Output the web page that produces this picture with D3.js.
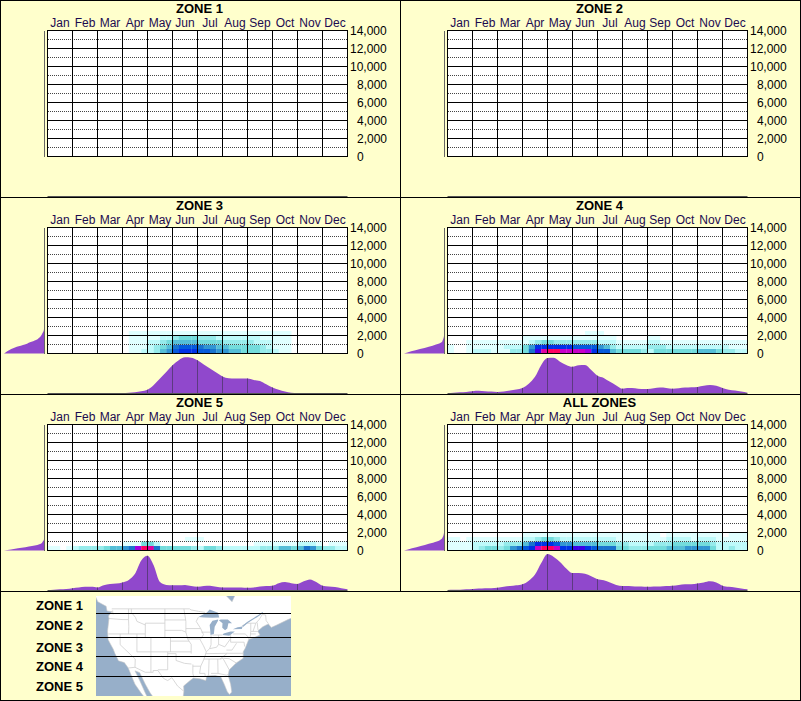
<!DOCTYPE html>
<html lang="en">
  <head>
    <meta charset="UTF-8" />
    <title>Zone elevation by month</title>
    <script src="https://d3js.org/d3.v7.min.js"></script>
    <style>
      html, body { margin: 0; padding: 0; background: #ffffcc; }
      svg { display: block; }
      text { font-family: "Liberation Sans", Arial, sans-serif; }
    </style>
  </head>
  <body>
    <svg width="801" height="701"></svg>
    <script>
      const months = ["Jan","Feb","Mar","Apr","May","Jun","Jul","Aug","Sep","Oct","Nov","Dec"];
      const yTicks = [0,2000,4000,6000,8000,10000,12000,14000];
      const yDotted = [1000,3000,5000,7000,9000,11000,13000];
      const legendNames = ["ZONE 1","ZONE 2","ZONE 3","ZONE 4","ZONE 5"];
      const legendBaselines = [610,630,652,671,691];
      const zoneBoundaryLats = [613,637,656,676];

      // heat levels, one array per 500 ft band starting at the bottom, 4 cells per month
      const heatLevels = ["#ffffff","#e0ffff","#befafa","#96ebeb","#73dcdc","#55bed7","#3296d2","#1973cd","#055adc","#0032e6","#3c00e6","#a000e0","#c800c8","#e000a0","#ff0060"];
      const zone3Heat = [
        [0,0,0,0,0,0,0,0,0,0,0,0,0,1,1,2,2,3,5,6,8,9,9,9,8,8,7,6,6,5,5,4,4,4,3,3,2,1,1,0,0,0,0,0,0,0,0,0],
        [0,0,0,0,0,0,0,0,0,0,0,0,0,1,1,1,2,3,4,5,7,8,8,8,7,6,6,5,5,4,4,4,4,4,3,2,1,1,1,0,0,0,0,0,0,0,0,0],
        [0,0,0,0,0,0,0,0,0,0,0,0,0,1,1,1,2,2,3,4,5,5,5,5,4,4,4,4,3,3,3,3,3,2,2,2,1,1,1,0,0,0,0,0,0,0,0,0],
        [0,0,0,0,0,0,0,0,0,0,0,0,0,1,1,1,1,1,2,2,3,4,4,4,3,3,3,2,2,2,2,2,2,2,1,1,1,1,1,0,0,0,0,0,0,0,0,0],
        [0,0,0,0,0,0,0,0,0,0,0,0,0,1,1,1,1,1,1,1,1,1,1,1,1,1,1,1,1,1,1,1,1,1,1,1,1,1,1,0,0,0,0,0,0,0,0,0]
      ];
      const zone4Heat = [
        [1,0,0,1,2,2,2,1,1,1,3,3,4,7,10,13,14,14,12,12,12,12,11,9,8,8,5,4,4,4,4,3,2,4,4,4,4,4,4,4,5,5,5,4,3,3,2,2],
        [1,0,0,1,1,1,1,1,1,2,2,2,4,6,9,9,9,9,9,9,8,8,8,8,6,5,3,2,2,2,2,2,3,3,3,2,2,2,2,2,2,2,2,2,2,1,1,1],
        [0,0,0,1,1,1,1,1,1,1,1,1,1,2,3,4,4,3,3,3,3,3,3,3,2,2,2,1,1,1,1,1,2,2,1,1,1,1,1,1,1,1,1,1,1,1,1,1],
        [0,0,0,0,0,0,0,0,0,0,0,0,1,1,1,1,1,1,1,1,1,1,1,1,1,1,1,0,0,0,0,0,1,1,0,0,0,0,0,0,0,0,0,0,0,0,0,0],
        [0,0,0,0,0,0,0,0,0,0,0,0,0,0,0,0,0,0,0,0,0,0,1,1,1,0,0,0,0,0,0,0,0,0,0,0,0,0,0,0,0,0,0,0,0,0,0,0]
      ];
      const zone5Heat = [
        [1,1,0,1,2,3,3,3,3,4,5,5,6,7,11,14,13,7,4,4,4,4,4,3,2,4,4,3,2,2,2,2,2,2,3,3,3,5,5,4,5,7,6,4,3,3,2,2],
        [0,0,0,0,0,0,0,0,0,0,0,0,1,1,1,4,4,2,0,0,0,0,0,0,0,0,0,0,0,0,0,0,0,1,1,1,1,1,1,1,2,2,2,1,0,1,1,1],
        [0,0,0,0,0,0,0,0,0,0,0,0,0,0,0,0,0,0,0,0,0,0,1,1,1,0,0,0,0,0,0,0,0,0,0,0,0,0,0,0,0,0,0,0,0,0,0,0]
      ];
      const allZonesHeat = [
        [1,1,1,1,2,3,4,4,3,4,6,7,8,9,12,14,14,12,9,9,10,10,9,8,7,7,7,4,4,3,3,3,4,4,4,5,5,5,6,6,6,6,4,2,2,3,2,2],
        [1,1,1,1,2,2,2,2,2,3,3,3,5,7,9,9,9,8,6,6,5,5,5,5,4,4,4,3,3,2,2,2,2,3,3,3,4,4,4,4,4,4,3,2,2,2,2,2],
        [1,1,0,1,1,1,1,1,1,1,1,1,2,2,3,4,4,3,2,2,2,2,2,2,2,2,2,1,1,1,1,1,1,1,1,2,2,2,2,1,2,2,2,1,1,1,1,1],
        [0,0,0,0,0,0,0,0,0,0,0,0,1,1,1,1,1,1,1,1,1,1,1,1,1,1,1,1,1,1,1,1,1,1,0,1,1,1,1,1,1,1,1,1,0,1,1,1]
      ];

      // share of the peak per quarter month, month axis profile under each chart
      const zone3Month = [0,0,0,0,0,0,0,0,0,0,0,0,0,1,2,5,9,22,40,58,77,91,99,98,91,79,68,57,46,41,40,40,40,36,33,24,15,9,4,1,0,0,0,0,0,0,0,0,0];
      const zone4Month = [0,1,2,3,5,6,5,4,3,4,7,10,14,26,45,78,97,98,87,78,73,77,78,64,48,42,31,21,12,14,13,11,11,13,15,14,12,13,15,16,17,20,22,20,14,9,7,4,1];
      const zone5Month = [0,1,2,3,5,7,9,9,7,13,17,18,21,28,45,82,95,68,22,14,13,13,14,11,9,11,12,9,7,7,7,7,6,7,10,11,12,19,22,19,17,24,29,22,12,10,8,5,2];
      const allZonesMonth = [0,1,1,2,3,4,5,5,6,9,11,13,16,26,43,75,100,92,78,60,47,47,45,38,30,27,21,14,11,11,10,10,9,10,10,11,12,14,16,16,18,21,24,21,12,9,7,4,2];

      // share of the widest point per elevation, side profile left of each chart
      const sideElev = [0,250,500,750,1000,1250,1500,1750,2000,2250,2500,2750];
      const zone3Side = [100,92,82,68,48,35,20,12,7,4,1,0];
      const zone4Side = [100,82,60,38,20,6,3,1,0,0,0,0];
      const zone5Side = [100,65,30,8,3,0,0,0,0,0,0,0];
      const allZonesSide = [100,80,58,38,18,7,3,1,0,0,0,0];

      const panels = [
        { name: "ZONE 1", col: 0, row: 0 },
        { name: "ZONE 2", col: 1, row: 0 },
        { name: "ZONE 3", col: 0, row: 1, heat: zone3Heat, month: zone3Month, side: zone3Side },
        { name: "ZONE 4", col: 1, row: 1, heat: zone4Heat, month: zone4Month, side: zone4Side },
        { name: "ZONE 5", col: 0, row: 2, heat: zone5Heat, month: zone5Month, side: zone5Side },
        { name: "ALL ZONES", col: 1, row: 2, heat: allZonesHeat, month: allZonesMonth, side: allZonesSide }
      ];

      // rough lon/lat outlines for the key map
      const landOutline = [[-140,70],[-140,60],[-135,58],[-130,54.5],[-128,51],[-125,49.7],[-124.7,48.4],[-123,48.2],[-122.5,47.5],[-122.7,48.5],[-124.2,47],[-124,46.3],[-124.5,42.8],[-124.3,40.4],[-123,38.5],[-122.5,37.8],[-121.9,36.6],[-120.6,34.5],[-118.5,34],[-117.1,32.5],[-115.8,30],[-114.7,28],[-112.5,25.5],[-110,23],[-109.5,23.2],[-111,25.5],[-113,29],[-114.7,31.7],[-113,31.2],[-111,28],[-109.3,25.6],[-106,22],[-105,20],[-100,17],[-95,16],[-94,18.2],[-97,20],[-97.8,22.5],[-97.2,26],[-97.3,27.5],[-95,29],[-93.8,29.7],[-91.5,29.5],[-89.4,29],[-89,30.3],[-86,30.4],[-84,30],[-82.8,28],[-81.7,25.9],[-80.9,25.1],[-80.1,25.8],[-80.5,28],[-81.4,30.5],[-81,32],[-78.5,33.9],[-76,35.2],[-76,37],[-75.3,38],[-74,40.5],[-72,41],[-70,41.7],[-70.8,42.8],[-69,44],[-67,44.8],[-66,43.8],[-64,44.5],[-60,46],[-57,47],[-56,52],[-60,55],[-65,60],[-70,62],[-78,62],[-77,56],[-80,51],[-85,55],[-92,57],[-95,60],[-95,70]];
      const lakes = [
        [[-92,46.7],[-89,48],[-88,48.8],[-85,47.9],[-84.6,46.6],[-87,46.5],[-90,46.6]],
        [[-87.7,41.7],[-86.5,42],[-86.2,44],[-85,45.7],[-85,46],[-87,45.7],[-88,44.5],[-87.8,43]],
        [[-84.7,45.8],[-83.4,45],[-83.5,43.7],[-82.5,43],[-81.7,43.5],[-81.3,45],[-80,45],[-81.5,46],[-84,46]],
        [[-83.4,41.7],[-81,41.5],[-79,42.7],[-80.5,42.7],[-83,42.1]],
        [[-79.7,43.3],[-76.5,43.4],[-76.2,44.1],[-78,43.9]]
      ];
      const stLawrence = [[-76.2,44.1],[-74.5,45.2],[-71,46.9],[-69,48]];
      const borders = [
        [[-123,49],[-95.2,49],[-94.6,48.7],[-92,48.3],[-89.6,48]],
        [[-76.5,44.2],[-74.7,45],[-71.5,45],[-70.3,46],[-69.2,47.4],[-68,47.3],[-67.8,45.7],[-67,44.9]],
        [[-117.1,32.5],[-114.7,32.7],[-111,31.3],[-108.2,31.3],[-108.2,31.8],[-106.5,31.8],[-104.5,29.6],[-103,29],[-101.5,29.8],[-99.5,27.5],[-97.2,26]],
        [[-124,46.3],[-119,46],[-117,46]],
        [[-117,49],[-117,46],[-116.9,44],[-117,42]],
        [[-124.2,42],[-111,42]],
        [[-120,42],[-120,39],[-114.6,35],[-114.7,32.7]],
        [[-114,42],[-114,37]],
        [[-114,37],[-94.6,37]],
        [[-109,41],[-109,31.3]],
        [[-111,45],[-104,45],[-104,41],[-111,41],[-111,45]],
        [[-116,49],[-116,48],[-114.5,46.6],[-114,45.5],[-111,44.5]],
        [[-104,49],[-104,45]],
        [[-104,45.9],[-96.5,45.9]],
        [[-104,43],[-98,43],[-96.5,42.5]],
        [[-104,41],[-102,41],[-102,37]],
        [[-102,40],[-95.3,40]],
        [[-94.6,39.1],[-94.6,36.5]],
        [[-103,36.5],[-100,36.5],[-100,34.6],[-97,33.8],[-94.5,33.6]],
        [[-103,37],[-103,32],[-106.5,32]],
        [[-94,33],[-91.2,33]],
        [[-94,33.5],[-94,31],[-93.7,30]],
        [[-97.2,49],[-96.5,45.5],[-96.5,42.5],[-95.8,40.5],[-94.6,39.1]],
        [[-96.5,43.5],[-91.2,43.5]],
        [[-95.8,40.6],[-91.5,40.6]],
        [[-92,46.7],[-92.8,45.5],[-91.2,43.5],[-90.2,41.8],[-91.4,40.4],[-90.2,38.7],[-89.2,37],[-90,35],[-91.2,33],[-91.6,31],[-89.7,31],[-89.6,30.2]],
        [[-91,42.5],[-87.8,42.5]],
        [[-87.5,41.7],[-87.5,39],[-88,37.9]],
        [[-84.8,41.7],[-84.8,39.1]],
        [[-89.2,37],[-88,37.9],[-85.5,38.3],[-84.8,39.1],[-82.6,38.4],[-80.6,40.6]],
        [[-80.5,42],[-80.5,39.7]],
        [[-87,41.7],[-83.4,41.7]],
        [[-79.7,42],[-75.3,42]],
        [[-80.5,39.7],[-75.7,39.7]],
        [[-89.5,36.5],[-81.7,36.6],[-75.9,36.6]],
        [[-90.2,35],[-84.3,35],[-81.7,36.6]],
        [[-85.1,35],[-85,31]],
        [[-88.2,35],[-88.4,30.3]],
        [[-87.5,31],[-85,31],[-82,30.5],[-81.5,30.7]],
        [[-83.1,35],[-81,32]],
        [[-84.3,35],[-83,35.2],[-81,35.1],[-78.5,33.9]],
        [[-82,37.5],[-80,37.5],[-78.4,39.4]],
        [[-73.3,45],[-73.3,42.7],[-73.5,41.2]],
        [[-71.5,45],[-72.5,42.7]],
        [[-73.3,42.7],[-70.8,42.7]],
        [[-73.5,42],[-71.5,42]],
        [[-71,45.2],[-70.7,43.1]],
        [[-75.3,42],[-74,41],[-74,40.5]],
        [[-75.7,39.7],[-75.5,38.5]]
      ];

      const panelW = 400;
      const panelH = 197;
      const svg = d3.select("svg");

      const x = d3.scaleLinear().domain([0, 48]).range([47.5, 347.5]);
      const y = d3.scaleLinear().domain([0, 14000]).range([156.5, 30.5]);
      const monthH = d3.scaleLinear().domain([0, 100]).range([196, 160]);
      const sideW = d3.scaleLinear().domain([0, 100]).range([44, 4]);

      svg.append("rect").attr("width", 801).attr("height", 701).attr("fill", "#ffffcc");

      panels.forEach((p, n) => {
        const g = svg.append("g").attr("transform", `translate(${p.col * panelW},${p.row * panelH})`);

        g.append("text")
          .attr("x", 199.5)
          .attr("y", 13)
          .attr("text-anchor", "middle")
          .attr("font-size", 13)
          .attr("font-weight", "bold")
          .text(p.name);

        g.selectAll(".month")
          .data(months)
          .enter()
          .append("text")
          .attr("x", (d, i) => x(i * 4 + 2))
          .attr("y", 27)
          .attr("text-anchor", "middle")
          .attr("font-size", 12)
          .attr("fill", "#1c0a50")
          .text((d) => d);

        g.append("rect")
          .attr("x", x(0))
          .attr("y", y(14000))
          .attr("width", x(48) - x(0))
          .attr("height", y(0) - y(14000))
          .attr("fill", "#fff");

        // heat cells
        (p.heat || []).forEach((row, r) => {
          g.selectAll(null)
            .data(row.map((level, c) => ({ level, c })).filter((d) => d.level > 0))
            .enter()
            .append("rect")
            .attr("x", (d) => x(d.c))
            .attr("y", y((r + 1) * 500))
            .attr("width", x(1) - x(0) + 0.2)
            .attr("height", y(0) - y(500))
            .attr("fill", (d) => heatLevels[d.level]);
        });

        // start on a whole pixel so the dots stay crisp
        g.selectAll(".dot")
          .data(yDotted)
          .enter()
          .append("line")
          .attr("x1", 48)
          .attr("x2", 347)
          .attr("y1", (d) => y(d))
          .attr("y2", (d) => y(d))
          .attr("stroke", "#444")
          .attr("stroke-dasharray", "1,1");

        g.selectAll(".hline")
          .data(yTicks)
          .enter()
          .append("line")
          .attr("x1", x(0) - 0.5)
          .attr("x2", x(48) + 0.5)
          .attr("y1", (d) => y(d))
          .attr("y2", (d) => y(d))
          .attr("stroke", "#000");

        g.selectAll(".vline")
          .data(d3.range(13))
          .enter()
          .append("line")
          .attr("x1", (d) => x(d * 4))
          .attr("x2", (d) => x(d * 4))
          .attr("y1", y(14000))
          .attr("y2", y(0))
          .attr("stroke", "#000");

        const axis = g.append("g")
          .attr("transform", "translate(347,0)")
          .call(d3.axisRight(y).tickValues(yTicks).tickFormat(d3.format(",")).tickSize(0));
        axis.select(".domain").remove();
        axis.selectAll("text")
          .attr("x", (d) => (d >= 10000 ? 3 : 10))
          .attr("font-family", "Liberation Sans, Arial, sans-serif")
          .attr("font-size", 12)
          .attr("fill", "#000");

        // side profile
        if (p.side) {
          const sideArea = d3.area()
            .x0(sideW(0))
            .x1((d) => sideW(d))
            .y((d, i) => y(sideElev[i]))
            .curve(d3.curveMonotoneY);
          g.append("path").attr("d", sideArea(p.side)).attr("fill", "#9048cc");
        }
        g.append("line")
          .attr("x1", 44.5)
          .attr("x2", 44.5)
          .attr("y1", 31)
          .attr("y2", 157)
          .attr("stroke", "#666");

        // month profile
        if (p.month) {
          const monthArea = d3.area()
            .x((d, i) => x(i))
            .y0(monthH(0))
            .y1((d) => monthH(d))
            .curve(d3.curveMonotoneX);
          g.append("clipPath")
            .attr("id", "clip" + n)
            .append("path")
            .attr("d", monthArea(p.month));
          g.append("path").attr("d", monthArea(p.month)).attr("fill", "#9048cc");
          g.append("g")
            .attr("clip-path", `url(#clip${n})`)
            .selectAll("line")
            .data(d3.range(1, 12))
            .enter()
            .append("line")
            .attr("x1", (d) => x(d * 4))
            .attr("x2", (d) => x(d * 4))
            .attr("y1", monthH(100))
            .attr("y2", monthH(0))
            .attr("stroke", "#5c3a80");
        }
        g.append("line")
          .attr("x1", x(0))
          .attr("x2", x(48))
          .attr("y1", 196.5)
          .attr("y2", 196.5)
          .attr("stroke", "#555");
      });

      // legend row with the key map
      svg.selectAll(".legend")
        .data(legendNames)
        .enter()
        .append("text")
        .attr("x", 36)
        .attr("y", (d, i) => legendBaselines[i])
        .attr("font-size", 13)
        .attr("font-weight", "bold")
        .text((d) => d);

      const mapX = 96, mapY = 596, mapW = 195, mapH = 100;
      // the key map reads as plain lon/lat, fitted on Cape Flattery, San Diego and Cape Cod
      const lonScale = d3.scaleLinear().domain([-124.7, -70]).range([107, 260]);
      const latScale = d3.scaleLinear().domain([32.5, 48.4]).range([668, 611]);
      const mapLine = d3.line().x((d) => lonScale(d[0])).y((d) => latScale(d[1]));

      svg.append("clipPath").attr("id", "mapClip")
        .append("rect").attr("x", mapX).attr("y", mapY).attr("width", mapW).attr("height", mapH);
      const map = svg.append("g").attr("clip-path", "url(#mapClip)");
      map.append("rect").attr("x", mapX).attr("y", mapY).attr("width", mapW).attr("height", mapH).attr("fill", "#97afc9");
      map.append("path").attr("d", mapLine(landOutline) + "Z").attr("fill", "#fff").attr("stroke", "#c8c8c8").attr("stroke-width", 0.6);
      map.selectAll(".border")
        .data(borders)
        .enter()
        .append("path")
        .attr("d", mapLine)
        .attr("fill", "none")
        .attr("stroke", "#cfcfcf")
        .attr("stroke-width", 0.8);
      map.selectAll(".lake")
        .data(lakes)
        .enter()
        .append("path")
        .attr("d", (d) => mapLine(d) + "Z")
        .attr("fill", "#97afc9");
      map.append("path").attr("d", mapLine(stLawrence)).attr("fill", "none").attr("stroke", "#97afc9").attr("stroke-width", 1.2);

      svg.selectAll(".zoneline")
        .data(zoneBoundaryLats)
        .enter()
        .append("line")
        .attr("x1", mapX)
        .attr("x2", mapX + mapW)
        .attr("y1", (d) => d + 0.5)
        .attr("y2", (d) => d + 0.5)
        .attr("stroke", "#000");

      // panel frame
      const frame = svg.append("g").attr("stroke", "#000").attr("fill", "none");
      frame.append("rect").attr("x", 0.5).attr("y", 0.5).attr("width", 800).attr("height", 700);
      [197, 394, 591].forEach((v) => {
        frame.append("line").attr("x1", 0).attr("x2", 801).attr("y1", v + 0.5).attr("y2", v + 0.5);
      });
      frame.append("line").attr("x1", 400.5).attr("x2", 400.5).attr("y1", 0).attr("y2", 591);
    </script>
  </body>
</html>
